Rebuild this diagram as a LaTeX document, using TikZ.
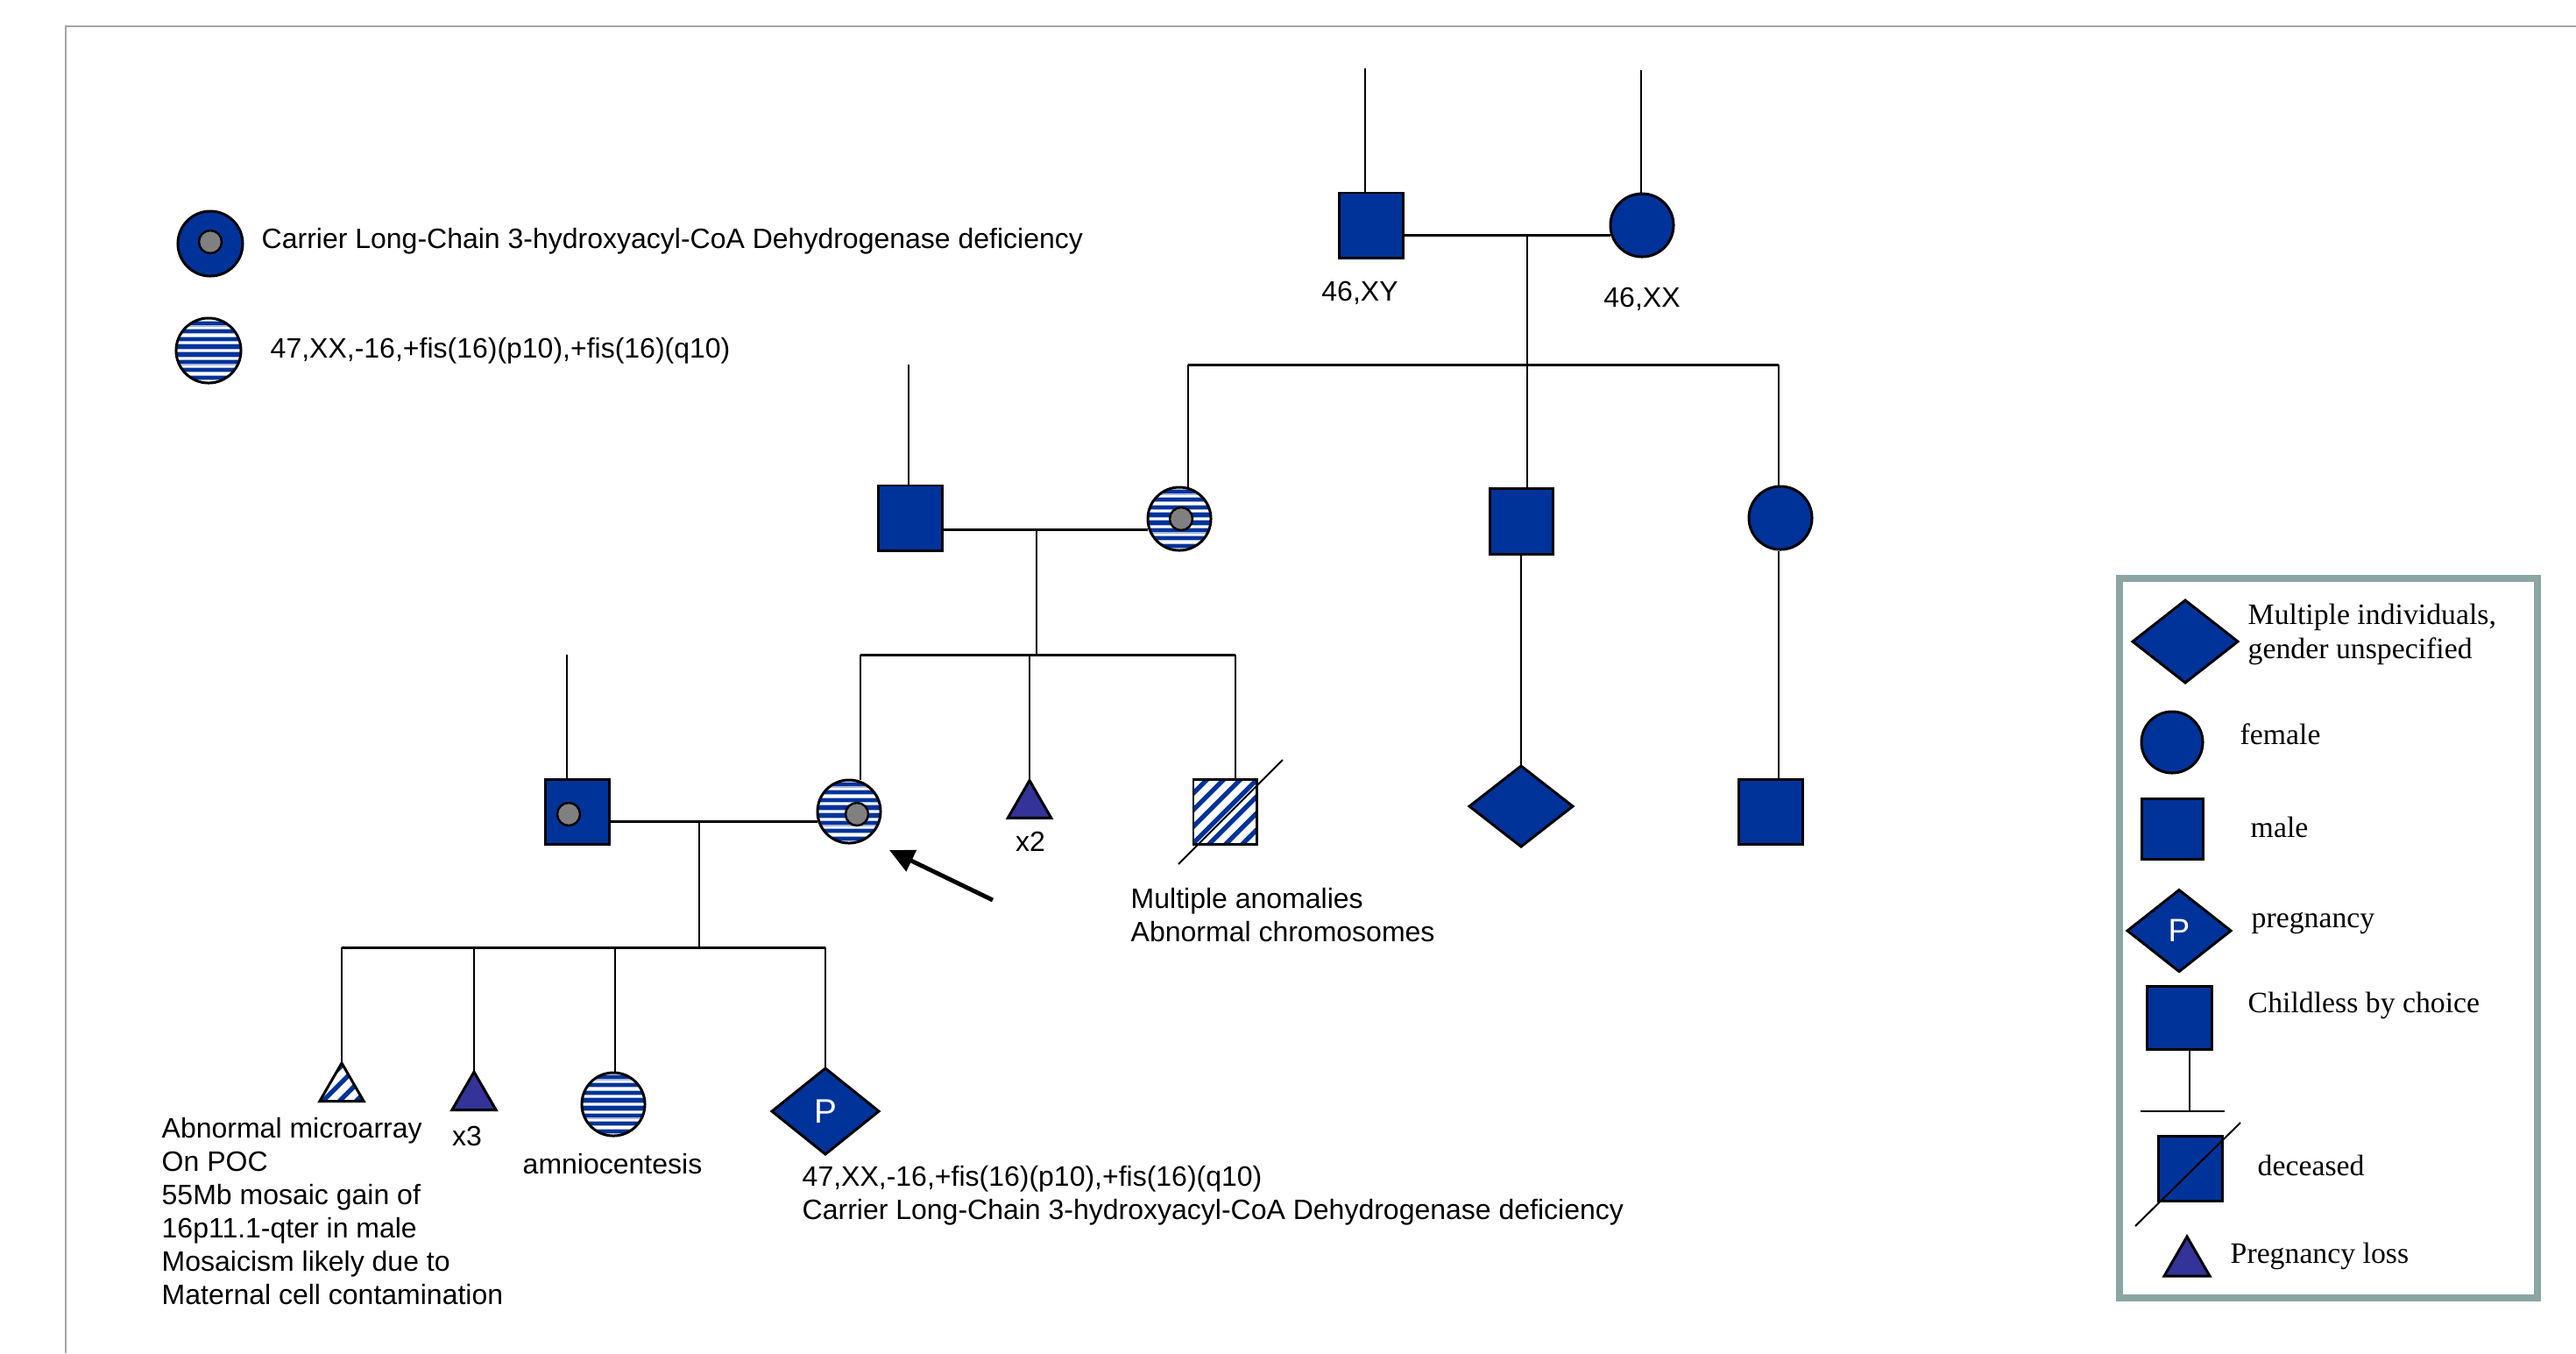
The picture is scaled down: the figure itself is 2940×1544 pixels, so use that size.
\documentclass[tikz,border=0pt]{standalone}
\usepackage{fontspec}
\newfontfamily\lsans{Liberation Sans}
\newfontfamily\lserif{Liberation Serif}
\usetikzlibrary{shapes.geometric,calc,arrows.meta}
\definecolor{pblue}{RGB}{0,51,153}
\definecolor{tri}{RGB}{51,51,153}
\definecolor{dotgray}{RGB}{128,128,128}
\definecolor{framegray}{RGB}{165,165,165}
\definecolor{legframe}{RGB}{139,165,165}
\tikzset{
 ln/.style={line width=0.57pt},
 mar/.style={line width=0.85pt},
 base/.style={draw=black, line width=0.85pt, inner sep=0pt, outer sep=0pt},
 male/.style={base, rectangle, fill=pblue, minimum width=0.73cm, minimum height=0.74cm},
 female/.style={base, circle, fill=pblue, minimum size=0.72cm},
 stripedf/.style={base, circle, fill=white, minimum size=0.72cm, path picture={\foreach \k in {-5,...,4}{\fill[pblue!35] ($(path picture bounding box.center)+(-45,\k*8.8+1.1)$) rectangle ++(90,6.6); \fill[pblue] ($(path picture bounding box.center)+(-45,\k*8.8+2.2)$) rectangle ++(90,4.4);}}},
 hatchpic/.style={path picture={\foreach \k in {-6,...,6}{\draw[pblue,line width=1.5pt] ($(path picture bounding box.center)+(\k*19-70,70)$) -- ++(140,-140);}}},
 hatchedm/.style={base, rectangle, fill=white, minimum width=0.72cm, minimum height=0.74cm, hatchpic},
 multi/.style={base, diamond, fill=pblue, minimum width=1.18cm, minimum height=0.92cm},
 loss/.style={base, regular polygon, regular polygon sides=3, fill=tri, minimum size=0.58cm},
 hatchedloss/.style={base, regular polygon, regular polygon sides=3, fill=white, minimum size=0.58cm, hatchpic},
 cdot/.style={draw=black, line width=0.7pt, circle, fill=dotgray, minimum size=0.26cm, inner sep=0pt},
 lbl/.style={font=\lsans\fontsize{9.1}{10.8}\selectfont, inner sep=0pt, align=left},
 leg/.style={font=\lserif\fontsize{9.6}{11.1}\selectfont, inner sep=0pt, align=left},
 ptext/.style={font=\lsans\fontsize{11}{13}\selectfont, text=white},
}
\begin{document}
\begin{tikzpicture}[x=0.01cm,y=-0.01cm]
\useasboundingbox[fill=white] (0,0) rectangle (2940,1544);
% frame
\draw[framegray, line width=0.6pt] (75,1544) -- (75,30) -- (2940,30);

% top-left legend
\node[female, minimum size=0.74cm] (lcar) at (240,278) {};
\node[cdot] (lcardot) at (240,276) {};
\node[lbl, anchor=west] (lcartxt) at (298,275) {Carrier Long-Chain 3-hydroxyacyl-CoA Dehydrogenase deficiency};
\node[stripedf, minimum size=0.74cm] (lstr) at (238,400) {};
\node[lbl, anchor=west] (lstrtxt) at (308,400) {47,XX,-16,+fis(16)(p10),+fis(16)(q10)};

% Generation I
\node[male] (I1) at (1565,257) {};
\node[female] (I2) at (1874,257) {};
\node[lbl] (I1k) at (1552,334) {46,XY};
\node[lbl] (I2k) at (1874,341) {46,XX};

% Generation II
\node[male] (II1) at (1039,591) {};
\node[stripedf] (II2) at (1346,592) {};
\node[cdot] (II2d) at (1348,592) {};
\node[male, minimum width=0.72cm, minimum height=0.75cm] (II3) at (1736,595) {};
\node[female] (II4) at (2032,591) {};

% Generation III
\node[male] (III1) at (659,926) {};
\node[cdot] (III1d) at (649,929) {};
\node[stripedf] (III2) at (969,926) {};
\node[cdot] (III2d) at (978,929) {};
\node[loss, minimum size=0.57cm] (III3) at (1175,919) {};
\node[lbl] (III3k) at (1176,960) {x2};
\node[hatchedm] (III4) at (1398,926) {};
\coordinate (III4a) at (1345,986);
\coordinate (III4b) at (1464,867);
\draw[ln] (III4a) -- (III4b);
\node[lbl, anchor=west] (III4k) at (1290,1044) {Multiple anomalies\\Abnormal chromosomes};
\node[multi] (III5) at (1736,920) {};
\node[male] (III6) at (2021,926) {};

% Generation IV
\node[hatchedloss] (IV1) at (390,1242) {};
\node[loss] (IV2) at (541,1252) {};
\node[lbl] (IV2k) at (533,1296) {x3};
\node[stripedf] (IV3) at (700,1260) {};
\node[lbl] (IV3k) at (699,1328) {amniocentesis};
\node[multi, minimum width=1.22cm, minimum height=0.98cm, ptext] (IV4) at (942,1268) {P};
\node[lbl, anchor=west] (IV1k) at (184,1382) {Abnormal microarray\\On POC\\55Mb mosaic gain of\\16p11.1-qter in male\\Mosaicism likely due to\\Maternal cell contamination};
\node[lbl, anchor=west] (IV4k) at (915,1364) {47,XX,-16,+fis(16)(p10),+fis(16)(q10)\\Carrier Long-Chain 3-hydroxyacyl-CoA Dehydrogenase deficiency};

% connectors generation I
\coordinate (i1up) at (1558,78);
\coordinate (i2up) at (1873,80);
\draw[ln] (i1up) -- (i1up |- I1.north);
\draw[ln] (i2up) -- (i2up |- I2.north);
\coordinate (m1) at (1743,268);
\draw[mar] (m1 -| I1.east) -- (m1 -| I2.west);
\draw[ln] (m1) -- (m1 |- II3.north);
\coordinate (s1l) at (1356,416);
\coordinate (s1r) at (2030,416);
\draw[mar] (s1l) -- (s1r);
\draw[ln] (s1l) -- (s1l |- II2.north);
\draw[ln] (s1r) -- (s1r |- II4.north);

% connectors generation II
\coordinate (ii1up) at (1037,416);
\draw[ln] (ii1up) -- (ii1up |- II1.north);
\coordinate (m2) at (1183,604);
\draw[mar] (m2 -| II1.east) -- (m2 -| II2.west);
\coordinate (s2l) at (982,747);
\coordinate (s2r) at (1410,747);
\coordinate (s2m) at (1175,747);
\draw[ln] (m2) -- (m2 |- s2l);
\draw[mar] (s2l) -- (s2r);
\draw[ln] (s2l) -- (s2l |- III2.north);
\draw[ln] (s2m) -- (III3.north);
\draw[ln] (s2r) -- (s2r |- III4.north);
\draw[ln] (II3.south) -- (III5.north);
\coordinate (ii4dn) at (2030,629);
\draw[ln] (ii4dn) -- (ii4dn |- III6.north);

% connectors generation III
\coordinate (iii1up) at (647,747);
\draw[ln] (iii1up) -- (iii1up |- III1.north);
\coordinate (m3) at (798,937);
\draw[mar] (m3 -| III1.east) -- (m3 -| III2.west);
\coordinate (s3l) at (390,1081);
\coordinate (s3r) at (942,1081);
\coordinate (s3a) at (541,1081);
\coordinate (s3b) at (702,1081);
\draw[ln] (m3) -- (m3 |- s3l);
\draw[mar] (s3l) -- (s3r);
\draw[ln] (s3l) -- (IV1.north);
\draw[ln] (s3a) -- (IV2.north);
\draw[ln] (s3b) -- (s3b |- IV3.north);
\draw[ln] (s3r) -- (IV4.north);

% proband arrow
\coordinate (arrtail) at (1133,1027);
\coordinate (arrtip) at (1015,970);
\draw[line width=1.4pt, -{Triangle[length=0.28cm,width=0.26cm]}] (arrtail) -- (arrtip);

% right legend
\draw[legframe, line width=2.3pt] (2419,660) rectangle (2896,1481);
\node[multi, minimum width=1.2cm, minimum height=0.94cm] (L1) at (2494,732) {};
\node[leg, anchor=west] (L1t) at (2565,724) {Multiple individuals,\\gender unspecified};
\node[female, minimum size=0.70cm] (L2) at (2479,847) {};
\node[leg, anchor=west] (L2t) at (2556,838) {female};
\node[male, minimum width=0.70cm, minimum height=0.69cm] (L3) at (2479,946) {};
\node[leg, anchor=west] (L3t) at (2568,944) {male};
\node[multi, minimum width=1.18cm, minimum height=0.93cm, font=\lsans\fontsize{10.5}{12}\selectfont, text=white] (L4) at (2487,1062) {P};
\node[leg, anchor=west] (L4t) at (2569,1053) {pregnancy};
\node[male, minimum width=0.74cm, minimum height=0.72cm] (L5) at (2487,1161) {};
\coordinate (L5b) at (2499,1268);
\coordinate (L5l) at (2443,1268);
\coordinate (L5r) at (2539,1268);
\draw[ln] (L5.south -| L5b) -- (L5b);
\draw[ln] (L5l) -- (L5r);
\node[leg, anchor=west] (L5t) at (2565,1147) {Childless by choice};
\node[male, minimum width=0.73cm, minimum height=0.74cm] (L6) at (2500,1333) {};
\coordinate (L6a) at (2437,1399);
\coordinate (L6b) at (2557,1281);
\draw[ln] (L6a) -- (L6b);
\node[leg, anchor=west] (L6t) at (2576,1330) {deceased};
\node[loss, minimum size=0.60cm] (L7) at (2496,1441) {};
\node[leg, anchor=west] (L7t) at (2545,1433) {Pregnancy loss};
\end{tikzpicture}
\end{document}
